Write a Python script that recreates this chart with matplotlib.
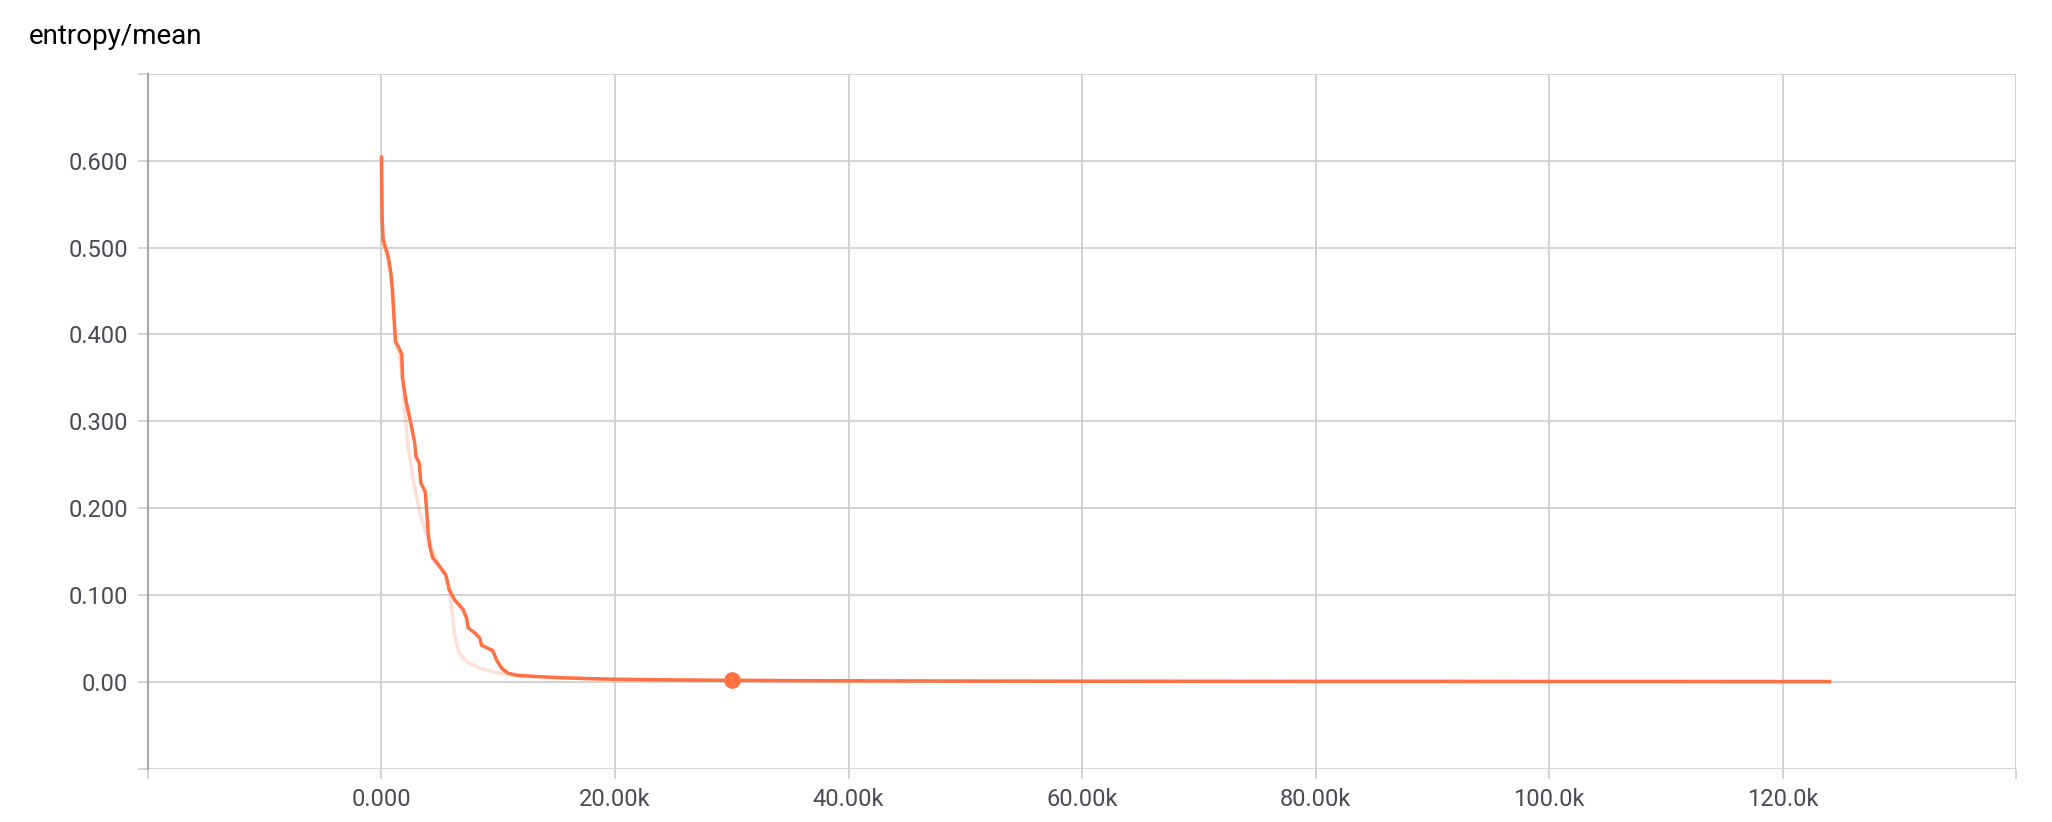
import matplotlib
matplotlib.use('Agg')
import matplotlib.pyplot as plt

# data
steps = [0, 25, 50, 140, 570, 800, 940, 1050, 1200, 1510, 1740, 1800, 2080, 2490,
         2850, 2940, 3230, 3370, 3740, 3860, 4000, 4140, 4370, 4850, 5510, 5800,
         6280, 7000, 7290, 7430, 8000, 8430, 8570, 9520, 9860, 10290, 10850, 11570,
         13000, 15300, 17500, 19900, 25000, 30000, 35000, 40000, 50000, 60000,
         70000, 80000, 90000, 100000, 110000, 120000, 124000]
entropy_smooth = [0.604, 0.567, 0.536, 0.509, 0.490, 0.471, 0.451, 0.425, 0.392, 0.384,
                  0.377, 0.350, 0.325, 0.299, 0.275, 0.260, 0.252, 0.229, 0.219, 0.199,
                  0.171, 0.156, 0.143, 0.135, 0.123, 0.106, 0.094, 0.083, 0.073, 0.062,
                  0.056, 0.050, 0.042, 0.036, 0.025, 0.0156, 0.0098, 0.0075,
                  0.0062, 0.0047, 0.0037, 0.0029, 0.0021, 0.0016, 0.0013, 0.0011,
                  0.0008, 0.0006, 0.0005, 0.0004, 0.0004, 0.0003, 0.0003, 0.0002, 0.0002]

raw_steps = [0, 25, 50, 140, 570, 800, 940, 1050, 1200, 1500, 1800, 2000, 2280, 2710,
             3280, 4000, 4850, 5430, 5790, 6000, 6230, 6570, 7290, 8430, 10140, 11570,
             13000, 15300, 19900, 25000, 30000, 40000, 50000, 60000, 80000, 100000,
             120000, 124000]
entropy_raw = [0.604, 0.560, 0.530, 0.505, 0.486, 0.468, 0.446, 0.420, 0.389, 0.380,
               0.348, 0.309, 0.271, 0.2325, 0.194, 0.163, 0.1365, 0.125, 0.1095, 0.0865,
               0.056, 0.0347, 0.023, 0.0155, 0.0098, 0.0070,
               0.0058, 0.0045, 0.0028, 0.0020, 0.0015, 0.0010, 0.0007, 0.0005, 0.0004,
               0.0003, 0.0002, 0.0002]

marker_step = 30000
marker_value = 0.0016

x_ticks = [-20000, 0, 20000, 40000, 60000, 80000, 100000, 120000, 140000]
x_labels = ['', '0.000', '20.00k', '40.00k', '60.00k', '80.00k', '100.0k', '120.0k', '']
y_ticks = [-0.1, 0.0, 0.1, 0.2, 0.3, 0.4, 0.5, 0.6, 0.7]
y_labels = ['', '0.00', '0.100', '0.200', '0.300', '0.400', '0.500', '0.600', '']

plt.rcParams['font.family'] = ['Roboto', 'DejaVu Sans']

orange = '#ff7043'
grid_c = '#cccccc'

fig = plt.figure(figsize=(20.52, 8.22), dpi=100)
ax = fig.add_axes([0.0721, 0.065, 0.9105, 0.845])

ax.plot(raw_steps, entropy_raw, color=orange, alpha=0.22, lw=2.5, zorder=3)
ax.plot(steps, entropy_smooth, color=orange, lw=2.5, zorder=4)
ax.plot([marker_step], [marker_value], 'o', color=orange, ms=11, zorder=5)

ax.set_xlim(-20000, 140000)
ax.set_ylim(-0.1, 0.7)
ax.set_xticks(x_ticks, labels=x_labels)
ax.set_yticks(y_ticks, labels=y_labels)
ax.grid(True, color=grid_c, lw=1.2)
ax.set_axisbelow(True)

for s in ['top', 'right', 'bottom']:
    ax.spines[s].set_visible(False)
ax.spines['left'].set_color('#a8a8a8')
ax.spines['left'].set_linewidth(1.5)
ax.spines['left'].set_zorder(2)

ax.tick_params(axis='both', color=grid_c, length=7.2, width=1.2,
               labelsize=17, labelcolor='#4a4a55')
ax.tick_params(axis='y', pad=7)
ax.tick_params(axis='x', pad=7)

fig.text(29 / 2052, 1 - 37 / 822, 'entropy/mean', fontsize=20, color='black', va='center')

plt.savefig('out.png', dpi=100)
